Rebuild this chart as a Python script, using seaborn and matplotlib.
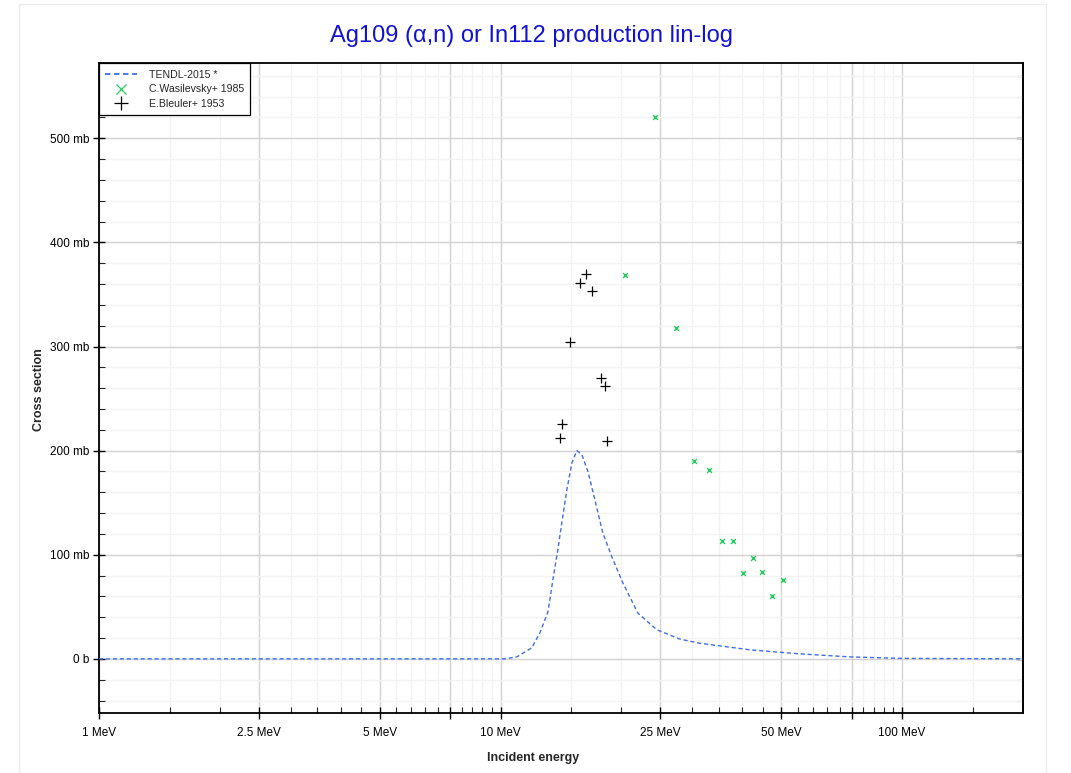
import numpy as np
import pandas as pd
import matplotlib
matplotlib.use("Agg")
import matplotlib.pyplot as plt
import matplotlib.ticker as mticker
from matplotlib.lines import Line2D
from matplotlib.patches import Rectangle
import seaborn as sns

# ---------------- data ---------------- #
# TENDL-2015 evaluation (energy in MeV, cross section in mb)
tendl_e = [1.0, 5.0, 10.25, 10.98, 11.96, 12.53, 13.12, 13.50, 13.89, 14.21, 14.62,
           15.05, 15.49, 15.94, 16.50, 17.17, 17.97, 18.93, 20.16, 21.97, 24.49,
           27.95, 31.35, 41.75, 55.6, 74.1, 98.6, 200.0]
tendl_xs = [0.0, 0.0, 0.0, 1.9, 10.6, 25.0, 45.0, 76.0, 105.0, 131.0, 162.0,
            188.0, 200.0, 196.0, 180.0, 153.0, 121.0, 98.0, 73.0, 44.0, 28.0,
            19.0, 15.0, 8.7, 4.8, 1.9, 0.5, 0.0]

# C.Wasilevsky+ 1985
wasil_e = [24.3, 20.39, 27.36, 30.28, 33.0, 35.5, 37.9, 42.6, 40.2, 44.8, 50.5, 47.5]
wasil_xs = [520.4, 368.3, 318.0, 190.2, 181.3, 113.1, 113.1, 97.0, 82.9, 83.9, 75.9, 60.8]

# E.Bleuler+ 1953
bleul_e = [16.31, 15.79, 16.90, 14.88, 17.77, 18.21, 14.19, 14.08, 18.39]
bleul_xs = [370.1, 361.2, 353.2, 304.4, 269.4, 262.0, 225.5, 212.0, 209.1]

x_major = [1, 2.5, 5, 7.5, 10, 25, 50, 75, 100]
x_major_labels = ["1 MeV", "2.5 MeV", "5 MeV", "", "10 MeV", "25 MeV", "50 MeV", "", "100 MeV"]
x_minor = [1.5, 2, 3, 3.5, 4, 4.5, 5.5, 6, 6.5, 7, 8, 8.5, 9, 9.5,
           15, 20, 30, 35, 40, 45, 55, 60, 65, 70, 80, 85, 90, 95, 150]

df_tendl = pd.DataFrame({"Energy": tendl_e, "XS": tendl_xs})
df_wasil = pd.DataFrame({"Energy": wasil_e, "XS": wasil_xs})
df_bleul = pd.DataFrame({"Energy": bleul_e, "XS": bleul_xs})

# ---------------- plotting ---------------- #
sns.set_style("white")
plt.rcParams["font.family"] = ["Liberation Sans", "DejaVu Sans"]

blue = "#3f6fe6"
green = "#22cc5a"

fig = plt.figure(figsize=(10.71, 7.73), dpi=100)
fig.patches.append(Rectangle((19 / 1071, -0.05), (1046 - 19) / 1071, 1 - 4 / 773 + 0.05,
                             transform=fig.transFigure, fill=False,
                             edgecolor="#ececec", lw=1.0, zorder=0))
ax = fig.add_axes([99 / 1071, 1 - 713 / 773, (1023 - 99) / 1071, (713 - 63.3) / 773])

sns.lineplot(data=df_tendl, x="Energy", y="XS", ax=ax, color=blue, lw=1.0,
             linestyle=(0, (3, 2)), zorder=3)
sns.scatterplot(data=df_wasil, x="Energy", y="XS", ax=ax, marker="x", color=green,
                s=12, linewidth=1.0, zorder=4)
sns.scatterplot(data=df_bleul, x="Energy", y="XS", ax=ax, marker="+", color="black",
                s=45, linewidth=0.9, zorder=4)

ax.set_xscale("log")
ax.set_xlim(1, 200)
ax.set_ylim(-52, 572)

ax.xaxis.set_major_locator(mticker.FixedLocator(x_major))
ax.xaxis.set_major_formatter(mticker.FixedFormatter(x_major_labels))
ax.xaxis.set_minor_locator(mticker.FixedLocator(x_minor))
ax.xaxis.set_minor_formatter(mticker.NullFormatter())

ax.yaxis.set_major_locator(mticker.MultipleLocator(100))
ax.yaxis.set_minor_locator(mticker.MultipleLocator(20))
ax.yaxis.set_major_formatter(mticker.FuncFormatter(
    lambda v, p: "0 b" if abs(v) < 1e-9 else f"{v:.0f} mb"))

ax.grid(which="major", color="#d2d2d2", lw=1.0)
ax.grid(which="minor", color="#f3f3f3", lw=1.0)
ax.set_axisbelow(True)

for s in ax.spines.values():
    s.set_color("black")
    s.set_linewidth(1.3)

ax.tick_params(which="major", direction="inout", length=8, width=1, labelsize=8.5,
               colors="black", left=True, bottom=True, right=False, pad=3)
ax.tick_params(which="minor", direction="in", length=4, width=0.8,
               left=True, bottom=True, right=False)
ax.tick_params(axis="x", which="major", pad=6)

# inward ticks on the right-hand spine
sec = ax.secondary_yaxis("right")
sec.yaxis.set_major_locator(mticker.MultipleLocator(100))
sec.yaxis.set_minor_locator(mticker.MultipleLocator(20))
sec.tick_params(which="major", direction="in", length=5, width=1, labelright=False,
                colors="black")
sec.tick_params(which="minor", direction="in", length=4, width=0.8, colors="black")
sec.spines["right"].set_linewidth(1.3)

ax.set_xlabel("Incident energy", fontsize=9, fontweight="bold")
ax.set_ylabel("Cross section", fontsize=9, fontweight="bold")
ax.xaxis.set_label_coords((533 - 99) / 924, (713 - 752) / 650)
ax.yaxis.set_label_coords((45 - 99) / 924, 0.497)

fig.text(532 / 1071, 1 - 36 / 773, "Ag109 (\u03b1,n) or In112 production lin-log",
         ha="center", va="center", fontsize=17, color="#1212d2")

handles = [
    Line2D([], [], color=blue, lw=1.3, linestyle=(0, (3, 2))),
    Line2D([], [], color=green, marker="x", linestyle="none", markersize=7, mew=0.9),
    Line2D([], [], color="black", marker="+", linestyle="none", markersize=10, mew=0.9),
]
leg = ax.legend(handles, ["TENDL-2015 *", "C.Wasilevsky+ 1985", "E.Bleuler+ 1953"],
                loc="upper left", bbox_to_anchor=(0, 1), borderaxespad=0.0,
                fontsize=7.6, frameon=True, fancybox=False, framealpha=1,
                handlelength=3.0, handletextpad=1.1, labelspacing=0.45,
                borderpad=0.6)
leg.get_frame().set_edgecolor("black")
leg.get_frame().set_linewidth(0.9)

fig.savefig("out.png", dpi=100)
